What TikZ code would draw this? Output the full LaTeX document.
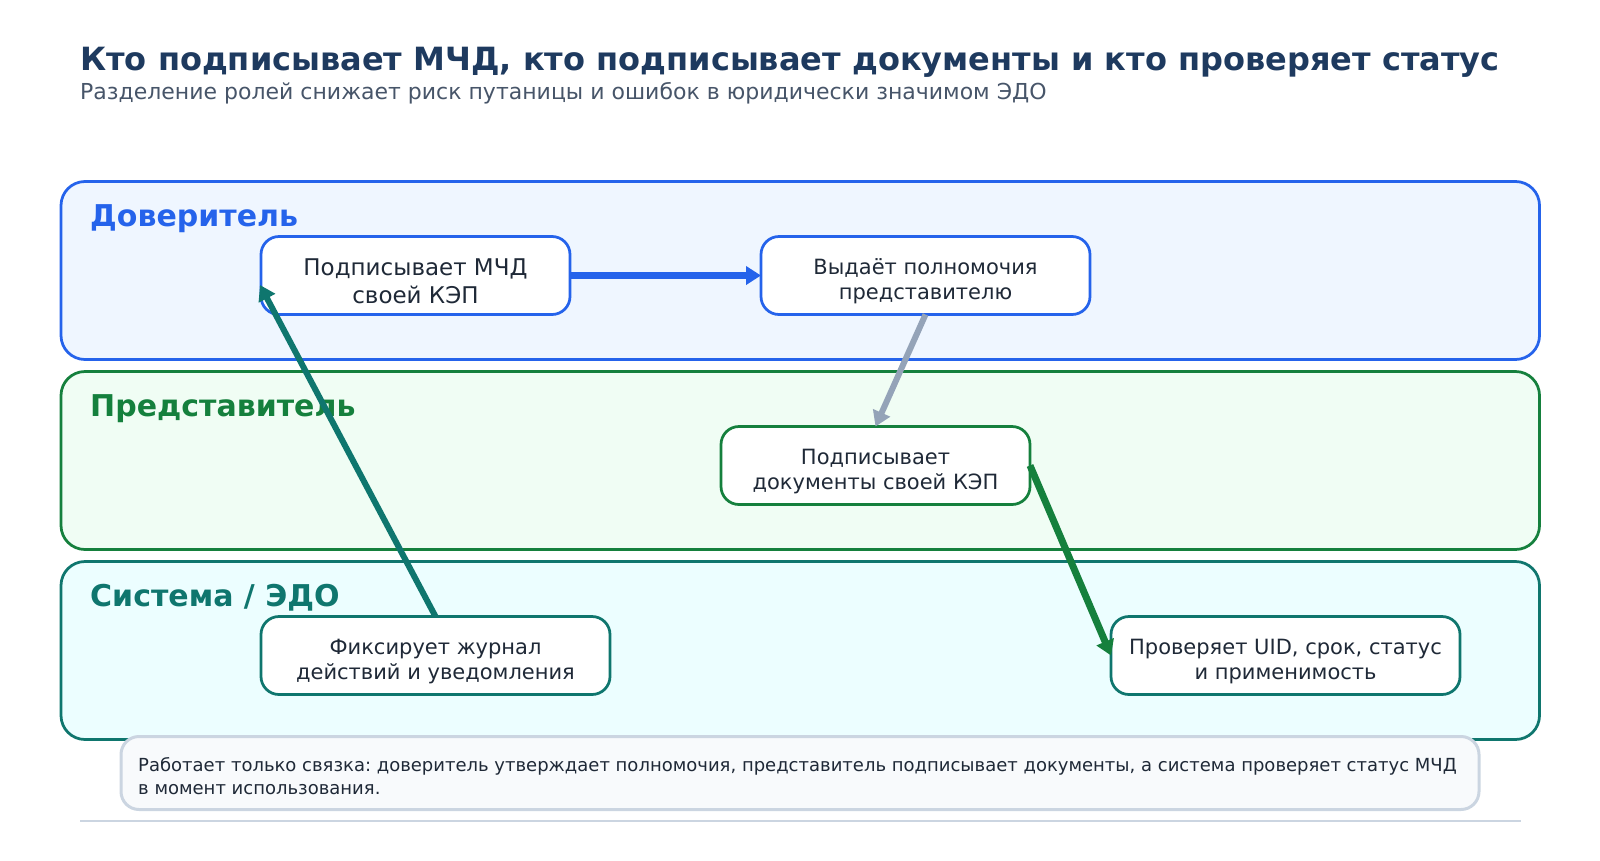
\documentclass[tikz,border=0pt]{standalone}
\usepackage{fontspec}
\setmainfont{DejaVu Sans}
\usetikzlibrary{arrows.meta}
\frenchspacing

\definecolor{blueline}{HTML}{2563EB}
\definecolor{bluefill}{HTML}{EFF6FF}
\definecolor{greenline}{HTML}{15803D}
\definecolor{greenfill}{HTML}{F0FDF4}
\definecolor{tealline}{HTML}{0F766E}
\definecolor{tealfill}{HTML}{ECFEFF}
\definecolor{greyline}{HTML}{CBD5E1}
\definecolor{greyfill}{HTML}{F8FAFC}
\definecolor{greyarrow}{HTML}{94A3B8}
\definecolor{titlecol}{HTML}{1E3A5F}
\definecolor{subcol}{HTML}{475569}
\definecolor{textcol}{HTML}{1F2937}

\tikzset{
  lane/.style={line width=2.75pt, rounded corners=24pt},
  lanelabel/.style={anchor=base west, inner sep=0pt, font=\fontsize{30}{34}\selectfont\bfseries},
  role/.style={draw, fill=white, line width=2.75pt, rounded corners=18pt, align=center,
    inner sep=0pt, outer sep=0pt, minimum height=78pt, text=textcol},
  bigtext/.style={font=\fontsize{23}{27.5}\selectfont, text height=55.5pt},
  smalltext/.style={font=\fontsize{21}{25.5}\selectfont, text height=53pt},
  flow/.style={line width=6pt, -{Triangle[length=15pt,width=18pt]}},
}

\begin{document}
\begin{tikzpicture}[x=1pt, y=-1pt]
\useasboundingbox (0,0) rectangle (1600,860);

% Заголовок
\node[anchor=base west, inner sep=0pt, text=titlecol, font=\fontsize{32}{36}\selectfont\bfseries] (title) at (80,70)
  {Кто подписывает МЧД, кто подписывает документы и кто проверяет статус};
\node[anchor=base west, inner sep=0pt, text=subcol, font=\fontsize{22}{26}\selectfont] (subtitle) at (80,99)
  {Разделение ролей снижает риск путаницы и ошибок в юридически значимом ЭДО};

% Дорожки
\filldraw[lane, draw=blueline, fill=bluefill] (61,181.5) rectangle (1539.5,359.5);
\filldraw[lane, draw=greenline, fill=greenfill] (61,371.5) rectangle (1539.5,549.5);
\filldraw[lane, draw=tealline, fill=tealfill] (61,561.5) rectangle (1539.5,739.5);

\node[lanelabel, text=blueline] (principal) at (90,226) {Доверитель};
\node[lanelabel, text=greenline] (agent) at (90,416) {Представитель};
\node[lanelabel, text=tealline] (system) at (90,606) {Система / ЭДО};

% Роли
\node[role, bigtext, draw=blueline, minimum width=309pt] (signmchd) at (415.5,275.5) {Подписывает МЧД\\своей КЭП};
\node[role, smalltext, draw=blueline, minimum width=329pt] (grant) at (925.5,275.5) {Выдаёт полномочия\\представителю};
\node[role, smalltext, draw=greenline, minimum width=309pt] (signdocs) at (875.5,465.5) {Подписывает\\документы своей КЭП};
\node[role, smalltext, draw=tealline, minimum width=349pt] (journal) at (435.5,655.5) {Фиксирует журнал\\действий и уведомления};
\node[role, smalltext, draw=tealline, minimum width=349pt] (check) at (1285.5,655.5) {Проверяет UID, срок, статус\\и применимость};

% Стрелки
\coordinate (signentry) at (260,285);
\draw[flow, blueline, line width=7pt] (signmchd.east) -- (grant.west);
\draw[flow, greyarrow] (grant.south) -- (signdocs.north);
\draw[flow, greenline, line width=7pt] (signdocs.east) -- (check.west);
\draw[flow, tealline] (journal.north) -- (signentry);

% Примечание
\node[draw=greyline, fill=greyfill, line width=3pt, rounded corners=18pt, anchor=north west,
  minimum width=1358pt, minimum height=73pt, inner sep=0pt, outer sep=0pt] (notebox) at (121,736.5) {};
\node[anchor=west, inner sep=0pt, align=left, text=textcol, font=\fontsize{18}{22.5}\selectfont] (note) at (138,776)
  {Работает только связка: доверитель утверждает полномочия, представитель подписывает документы, а система проверяет статус МЧД\\в момент использования.};

% Линия внизу
\coordinate (rulestart) at (80,821);
\coordinate (ruleend) at (1520.5,821);
\draw[greyline, line width=1.5pt] (rulestart) -- (ruleend);

\end{tikzpicture}
\end{document}
